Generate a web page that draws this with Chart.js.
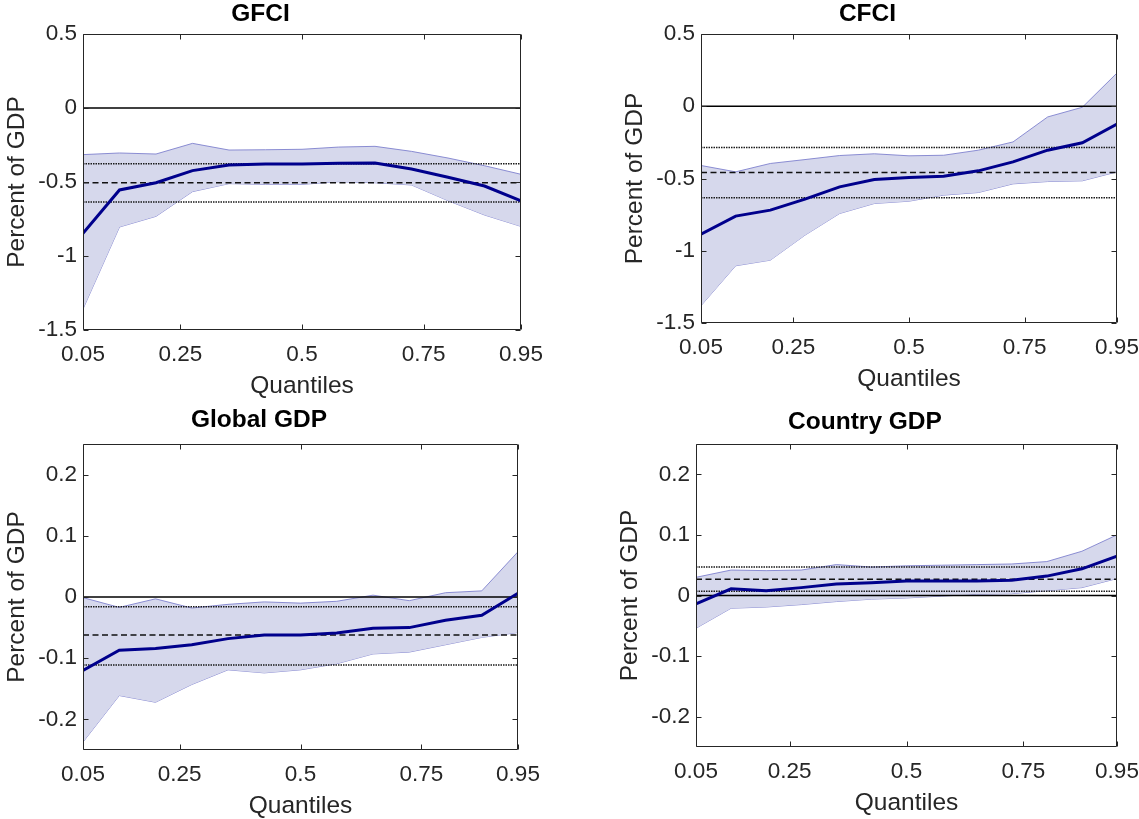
<!DOCTYPE html>
<html><head><meta charset="utf-8">
<script src="https://cdn.jsdelivr.net/npm/chart.js@4.4.1/dist/chart.umd.min.js"></script>
<style>
html,body{margin:0;padding:0;background:#fff;}
body{width:1139px;height:819px;position:relative;overflow:hidden;}
canvas{position:absolute;display:block;}
</style></head><body>
<canvas id="cA" width="570" height="410" style="left:0px;top:0px"></canvas>
<canvas id="cB" width="569" height="410" style="left:570px;top:0px"></canvas>
<canvas id="cC" width="570" height="430" style="left:0px;top:400px"></canvas>
<canvas id="cD" width="569" height="430" style="left:570px;top:400px"></canvas>
<script>
// ---------- data ----------
const quantiles = [0.05,0.125,0.2,0.275,0.35,0.425,0.5,0.575,0.65,0.725,0.8,0.875,0.95];
const xTickValues = [0.05,0.25,0.5,0.75,0.95];
const fciTicks = [-1.5,-1,-0.5,0,0.5];
const gdpTicks = [-0.2,-0.1,0,0.1,0.2];

const gfciEst   = [-0.847,-0.554,-0.505,-0.423,-0.385,-0.378,-0.378,-0.374,-0.372,-0.412,-0.468,-0.527,-0.628];
const gfciUpper = [-0.315,-0.304,-0.311,-0.239,-0.284,-0.282,-0.279,-0.264,-0.259,-0.293,-0.338,-0.390,-0.448];
const gfciLower = [-1.358,-0.804,-0.732,-0.565,-0.511,-0.516,-0.516,-0.498,-0.505,-0.520,-0.626,-0.723,-0.800];
const gfciOls   = [-0.505,-0.376,-0.635];

const cfciEst   = [-0.885,-0.760,-0.719,-0.643,-0.558,-0.507,-0.493,-0.484,-0.447,-0.385,-0.304,-0.253,-0.124];
const cfciUpper = [-0.410,-0.454,-0.396,-0.369,-0.341,-0.329,-0.343,-0.339,-0.304,-0.247,-0.074,-0.007,0.230];
const cfciLower = [-1.380,-1.104,-1.065,-0.892,-0.742,-0.673,-0.657,-0.615,-0.597,-0.537,-0.521,-0.516,-0.454];
const cfciOls   = [-0.459,-0.286,-0.634];

const globalEst   = [-0.120,-0.087,-0.084,-0.078,-0.068,-0.062,-0.062,-0.059,-0.051,-0.050,-0.038,-0.030,0.006];
const globalUpper = [-0.001,-0.017,-0.003,-0.018,-0.012,-0.008,-0.010,-0.007,0.003,-0.006,0.007,0.010,0.074];
const globalLower = [-0.237,-0.161,-0.172,-0.143,-0.119,-0.124,-0.119,-0.109,-0.093,-0.090,-0.078,-0.066,-0.058];
const globalOls   = [-0.062,-0.016,-0.111];

const countryEst   = [-0.014,0.011,0.008,0.013,0.019,0.021,0.024,0.024,0.024,0.025,0.032,0.044,0.065];
const countryUpper = [0.030,0.042,0.041,0.042,0.051,0.047,0.049,0.050,0.051,0.052,0.056,0.073,0.100];
const countryLower = [-0.054,-0.021,-0.019,-0.015,-0.010,-0.006,-0.004,-0.001,0.002,0.003,0.008,0.013,0.028];
const countryOls   = [0.027,0.047,0.007];

// ---------- styling ----------
const FONT = "'Liberation Sans', Arial, Helvetica, sans-serif";
const AXIS_COLOR = '#262626';
const BAND_FILL = 'rgba(214,216,236,1)';
const BAND_EDGE = 'rgba(128,130,206,0.9)';
const LINE_COLOR = '#00008c';
const TICK_SIZE = 22.5;
const LABEL_SIZE = 24.5;

const matlabBox = {
  id: 'matlabBox',
  afterDraw(chart) {
    const {ctx, chartArea: a, scales: {x, y}} = chart;
    const L = Math.round(a.left) + 0.5, R = Math.round(a.right) - 0.5;
    const T = Math.round(a.top) + 0.5, B = Math.round(a.bottom) - 0.5;
    const tl = 5;
    ctx.save();
    ctx.strokeStyle = AXIS_COLOR;
    ctx.lineWidth = 1;
    ctx.setLineDash([]);
    ctx.beginPath();
    ctx.moveTo(L, T); ctx.lineTo(R, T); ctx.lineTo(R, B); ctx.lineTo(L, B); ctx.closePath();
    x.ticks.forEach(t => {
      const px = Math.round(x.getPixelForValue(t.value)) + 0.5;
      ctx.moveTo(px, B); ctx.lineTo(px, B - tl);
      ctx.moveTo(px, T); ctx.lineTo(px, T + tl);
    });
    y.ticks.forEach(t => {
      const py = Math.round(y.getPixelForValue(t.value)) + 0.5;
      ctx.moveTo(L, py); ctx.lineTo(L + tl, py);
      ctx.moveTo(R, py); ctx.lineTo(R - tl, py);
    });
    ctx.stroke();
    ctx.restore();
  }
};

function pts(vals) { return vals.map((v, i) => ({x: quantiles[i], y: v})); }
function hline(v) { return [{x: quantiles[0], y: v}, {x: quantiles[quantiles.length - 1], y: v}]; }

const hiddenGrid = (len) => ({display: true, drawOnChartArea: false, drawTicks: true, tickLength: len,
                              color: 'rgba(0,0,0,0)', tickColor: 'rgba(0,0,0,0)'});

function makePanel(id, p) {
  const ctx = document.getElementById(id).getContext('2d');
  return new Chart(ctx, {
    type: 'line',
    data: {
      datasets: [
        {data: pts(p.est), borderColor: LINE_COLOR, borderWidth: 3, pointRadius: 0, fill: false, tension: 0},
        {data: hline(0), borderColor: '#000', borderWidth: 1.5, pointRadius: 0, fill: false},
        {data: hline(p.ols[0]), borderColor: '#111', borderWidth: 1.5, borderDash: [6, 3.5], pointRadius: 0, fill: false},
        {data: hline(p.ols[1]), borderColor: '#1a1a1a', borderWidth: 1.5, borderDash: [1.5, 1], pointRadius: 0, fill: false},
        {data: hline(p.ols[2]), borderColor: '#1a1a1a', borderWidth: 1.5, borderDash: [1.5, 1], pointRadius: 0, fill: false},
        {data: pts(p.upper), borderColor: BAND_EDGE, borderWidth: 1, pointRadius: 0, fill: '+1', backgroundColor: BAND_FILL, tension: 0},
        {data: pts(p.lower), borderColor: BAND_EDGE, borderWidth: 1, pointRadius: 0, fill: false, tension: 0}
      ]
    },
    options: {
      responsive: false,
      animation: false,
      events: [],
      layout: {padding: p.pad},
      plugins: {
        legend: {display: false},
        tooltip: {enabled: false},
        title: {
          display: true, text: p.title, color: '#000',
          font: {family: FONT, size: LABEL_SIZE, weight: 'bold', lineHeight: 1.2},
          padding: p.titlePad
        }
      },
      scales: {
        x: {
          type: 'linear', min: 0.05, max: 0.95,
          afterBuildTicks: s => { s.ticks = xTickValues.map(v => ({value: v})); },
          afterFit: s => { s.height = 80; },
          grid: hiddenGrid(11),
          border: {display: false},
          ticks: {color: AXIS_COLOR, font: {family: FONT, size: TICK_SIZE}, padding: 0, maxRotation: 0, autoSkip: false,
                  callback: v => String(v)},
          title: {display: true, text: 'Quantiles', color: AXIS_COLOR,
                  font: {family: FONT, size: LABEL_SIZE, lineHeight: 1.2}, padding: {top: 0, bottom: 9.3}}
        },
        y: {
          type: 'linear', min: p.yMin, max: p.yMax,
          afterBuildTicks: s => { s.ticks = p.yTicks.map(v => ({value: v})); },
          afterFit: s => { s.width = 83; },
          grid: hiddenGrid(6),
          border: {display: false},
          ticks: {color: AXIS_COLOR, font: {family: FONT, size: TICK_SIZE}, padding: 0, autoSkip: false,
                  callback: v => String(v)},
          title: {display: true, text: 'Percent of GDP', color: AXIS_COLOR,
                  font: {family: FONT, size: LABEL_SIZE, lineHeight: 1.2}, padding: {top: p.yTitlePad, bottom: 0}}
        }
      }
    },
    plugins: [matlabBox]
  });
}

makePanel('cA', {title: 'GFCI', est: gfciEst, upper: gfciUpper, lower: gfciLower, ols: gfciOls,
  yMin: -1.5, yMax: 0.5, yTicks: fciTicks,
  pad: {left: 0, right: 49, top: 0, bottom: 0}, titlePad: {top: 0, bottom: 4.6}, yTitlePad: 2.3});
makePanel('cB', {title: 'CFCI', est: cfciEst, upper: cfciUpper, lower: cfciLower, ols: cfciOls,
  yMin: -1.5, yMax: 0.5, yTicks: fciTicks,
  pad: {left: 48, right: 22, top: 0, bottom: 7}, titlePad: {top: 0, bottom: 4.6}, yTitlePad: 2.3});
makePanel('cC', {title: 'Global GDP', est: globalEst, upper: globalUpper, lower: globalLower, ols: globalOls,
  yMin: -0.25, yMax: 0.25, yTicks: gdpTicks,
  pad: {left: 0, right: 52, top: 0, bottom: 0}, titlePad: {top: 5.3, bottom: 9.3}, yTitlePad: 2.3});
makePanel('cD', {title: 'Country GDP', est: countryEst, upper: countryUpper, lower: countryLower, ols: countryOls,
  yMin: -0.25, yMax: 0.25, yTicks: gdpTicks,
  pad: {left: 43, right: 22, top: 0, bottom: 3}, titlePad: {top: 7.7, bottom: 6.9}, yTitlePad: 2.3});
</script>
</body></html>
